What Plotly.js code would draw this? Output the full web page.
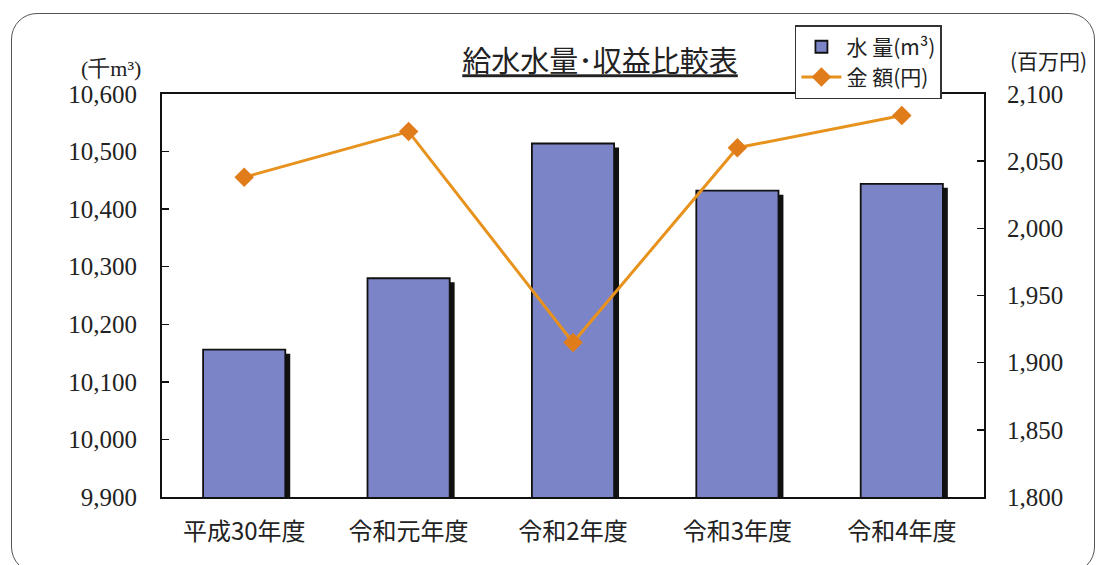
<!DOCTYPE html>
<html>
<head>
<meta charset="utf-8">
<script src="https://cdn.plot.ly/plotly-3.0.1.min.js"></script>
<style>
html,body{margin:0;padding:0;background:#fff;}
#wrap{position:relative;width:1102px;height:565px;}
#chart{width:1102px;height:565px;}
#frame{position:absolute;left:11px;top:13px;width:1084px;height:560px;border:1.5px solid #555;border-radius:26px;pointer-events:none;box-sizing:border-box;}
</style>
</head>
<body>
<div id="wrap"><div id="chart"></div><div id="frame"></div></div>
<script>
const categories = ['平成30年度', '令和元年度', '令和2年度', '令和3年度', '令和4年度'];
const waterVolume = [10156, 10280, 10514, 10432, 10444];   // 千m³
const revenue = [2038, 2072, 1915, 2060, 2084];             // 百万円
const leftTicks = [9900, 10000, 10100, 10200, 10300, 10400, 10500, 10600];
const rightTicks = [1800, 1850, 1900, 1950, 2000, 2050, 2100];

const serif = '"Liberation Serif", "DejaVu Serif", serif';
const gothic = '"Noto Sans CJK JP", "Noto Sans", sans-serif';

const traces = [
  { // shadow (drawn first, on a slightly shifted hidden axis)
    type: 'bar', x: categories, y: waterVolume, xaxis: 'x', yaxis: 'y',
    width: 0.5, offset: -0.22, marker: {color: '#111', line: {width: 0}},
    showlegend: false, hoverinfo: 'skip'
  },
  {
    type: 'bar', name: '水 量(m³)', x: categories, y: waterVolume, xaxis: 'x', yaxis: 'y2',
    width: 0.5, offset: -0.25,
    marker: {color: '#7c84c8', line: {color: '#111', width: 1.8}}
  },
  {
    type: 'scatter', mode: 'lines+markers', name: '金 額(円)', x: categories, y: revenue,
    xaxis: 'x', yaxis: 'y3',
    line: {color: '#e8921e', width: 3},
    marker: {symbol: 'diamond', size: 15, color: '#e07c1a'}
  }
];

const layout = {
  width: 1102, height: 565,
  margin: {l: 162, r: 118, t: 94, b: 68},
  paper_bgcolor: 'rgba(0,0,0,0)', plot_bgcolor: '#fff',
  showlegend: true,
  title: {
    text: '<span style="text-decoration:underline">給水水量･収益比較表</span>',
    font: {family: gothic, size: 29, color: '#222'},
    x: 0.5445, xanchor: 'center', xref: 'container',
    y: 0.89, yanchor: 'middle', yref: 'container'
  },
  legend: {
    x: 0.770, y: 1.171, xanchor: 'left', yanchor: 'top',
    bgcolor: '#fff', bordercolor: '#333', borderwidth: 1.5,
    font: {family: gothic, size: 21, color: '#222'},
    tracegroupgap: 0, itemwidth: 40
  },
  xaxis: {
    type: 'category', showline: true, mirror: true, linecolor: '#111', linewidth: 2,
    ticks: '', showgrid: false, zeroline: false, fixedrange: true,
    tickfont: {family: gothic, size: 24, color: '#222'}, ticklabelstandoff: 12
  },
  yaxis: {range: [9907, 10607], visible: false, showgrid: false, zeroline: false},
  yaxis2: {
    range: [9900, 10600], tickvals: leftTicks, tickformat: ',d', overlaying: 'y', side: 'left',
    ticks: 'inside', ticklen: 7, tickcolor: '#111', tickwidth: 1.5,
    showline: true, linecolor: '#111', linewidth: 2, showgrid: false, zeroline: false,
    tickfont: {family: serif, size: 25, color: '#222'}, ticklabelstandoff: 18
  },
  yaxis3: {
    range: [1800, 2100], tickvals: rightTicks, tickformat: ',d', overlaying: 'y', side: 'right',
    ticks: 'inside', ticklen: 7, tickcolor: '#111', tickwidth: 1.5,
    showline: true, linecolor: '#111', linewidth: 2, showgrid: false, zeroline: false,
    tickfont: {family: serif, size: 25, color: '#222'}, ticklabelstandoff: 16
  },
  annotations: [
    {text: '(千m³)', xref: 'paper', yref: 'paper', x: -0.062, y: 1.064, xanchor: 'center', yanchor: 'middle',
     showarrow: false, font: {family: serif, size: 22, color: '#222'}},
    {text: '(百万円)', xref: 'paper', yref: 'paper', x: 1.079, y: 1.085, xanchor: 'center', yanchor: 'middle',
     showarrow: false, font: {family: gothic, size: 21, color: '#222'}}
  ]
};

Plotly.newPlot('chart', traces, layout, {displayModeBar: false, staticPlot: true});
</script>
</body>
</html>
